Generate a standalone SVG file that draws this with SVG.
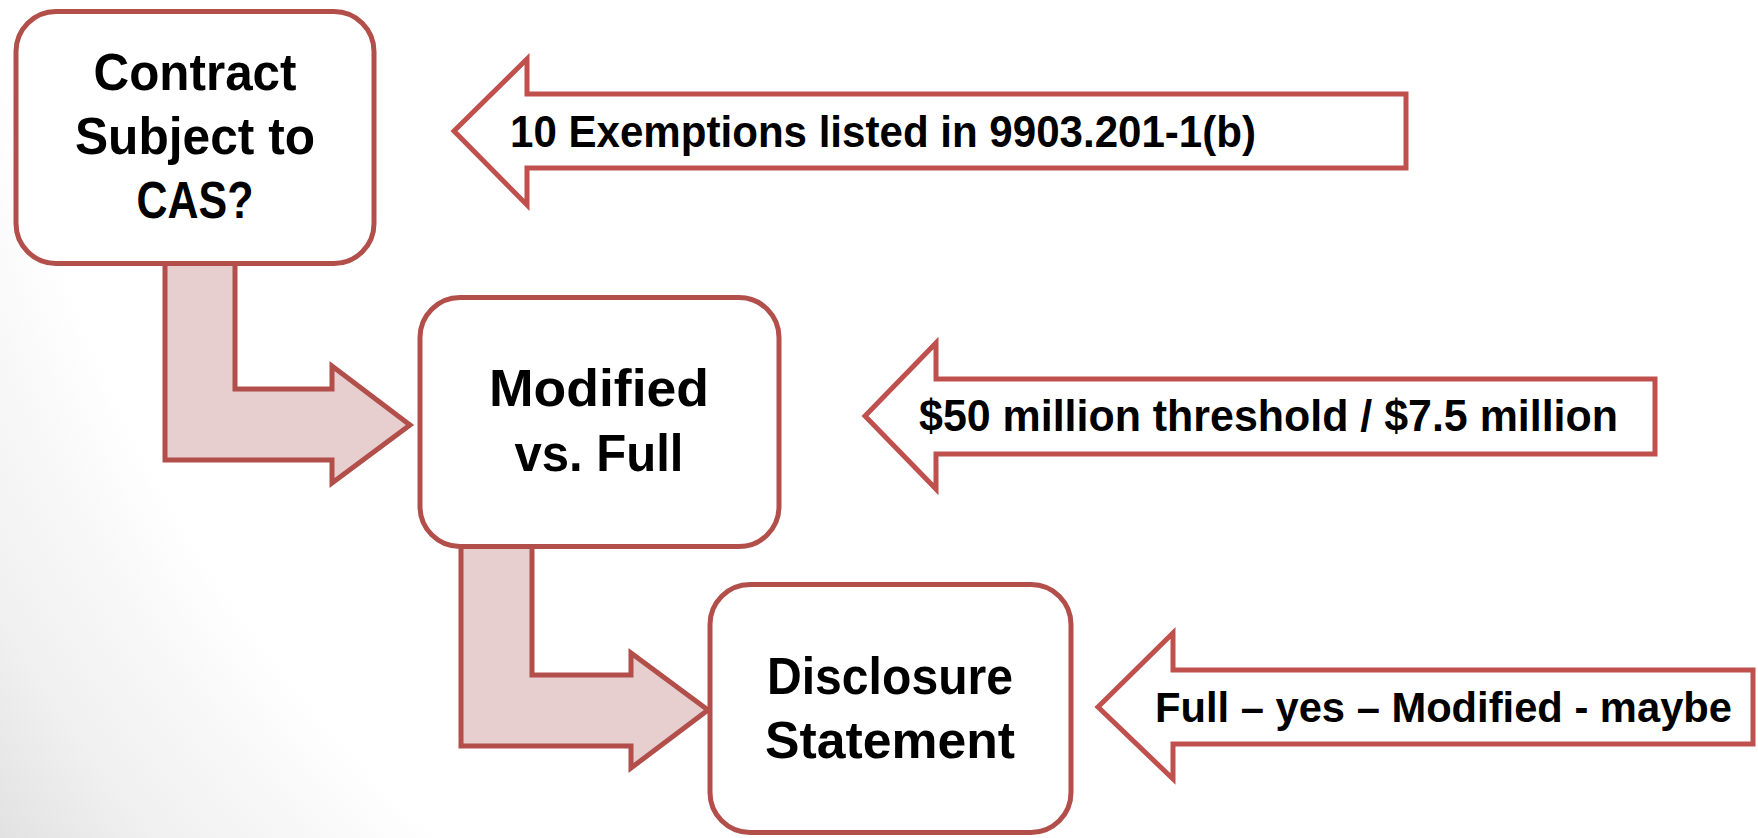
<svg xmlns="http://www.w3.org/2000/svg" width="1758" height="838" viewBox="0 0 1758 838">
  <defs>
    <radialGradient id="bg" gradientUnits="userSpaceOnUse" cx="1400" cy="-200" r="1743">
      <stop offset="0.81" stop-color="#ffffff"/>
      <stop offset="0.86" stop-color="#f8f8f8"/>
      <stop offset="0.93" stop-color="#f0f0f0"/>
      <stop offset="1" stop-color="#e2e2e2"/>
    </radialGradient>
  </defs>
  <style>
    .box { fill: #ffffff; stroke: #b24f4b; stroke-width: 5; }
    .flow { fill: #e7cfcf; stroke: #b24f4b; stroke-width: 5; stroke-linejoin: miter; }
    .callout { fill: #ffffff; stroke: #c0504d; stroke-width: 5; stroke-linejoin: miter; }
    .nodetext { font-family: "Liberation Sans", Arial, sans-serif; font-weight: bold; font-size: 52px; fill: #000000; text-anchor: middle; }
    .calltext { font-family: "Liberation Sans", Arial, sans-serif; font-weight: bold; font-size: 44px; fill: #000000; }
  </style>
  <rect x="0" y="0" width="1758" height="838" fill="url(#bg)"/>

  <g id="connectors">
    <path class="flow" d="M165,262 L235,262 L235,389 L332,389 L332,366 L410,425 L332,483 L332,460 L165,460 Z"/>
    <path class="flow" d="M461,545 L532,545 L532,675 L631,675 L631,653 L708,710 L631,768 L631,746 L461,746 Z"/>
  </g>

  <g id="node-contract">
    <rect class="box" x="16" y="11.5" width="358" height="252" rx="40" ry="40"/>
    <text class="nodetext" x="195" y="90" textLength="203" lengthAdjust="spacingAndGlyphs">Contract</text>
    <text class="nodetext" x="195" y="154" textLength="240" lengthAdjust="spacingAndGlyphs">Subject to</text>
    <text class="nodetext" x="195" y="218" textLength="117" lengthAdjust="spacingAndGlyphs">CAS?</text>
  </g>

  <g id="node-modified">
    <rect class="box" x="420" y="297.5" width="359" height="249" rx="40" ry="40"/>
    <text class="nodetext" x="599" y="406" textLength="220" lengthAdjust="spacingAndGlyphs">Modified</text>
    <text class="nodetext" x="599" y="471" textLength="169" lengthAdjust="spacingAndGlyphs">vs. Full</text>
  </g>

  <g id="node-disclosure">
    <rect class="box" x="710" y="584.5" width="361" height="248" rx="40" ry="40"/>
    <text class="nodetext" x="890" y="694" textLength="246" lengthAdjust="spacingAndGlyphs">Disclosure</text>
    <text class="nodetext" x="890" y="758" textLength="250" lengthAdjust="spacingAndGlyphs">Statement</text>
  </g>

  <g id="callout-exemptions">
    <path class="callout" d="M454,131 L527,59 L527,94 L1406,94 L1406,168 L527,168 L527,205 Z"/>
    <text class="calltext" x="510" y="147" textLength="746" lengthAdjust="spacingAndGlyphs">10 Exemptions listed in 9903.201-1(b)</text>
  </g>

  <g id="callout-threshold">
    <path class="callout" d="M865,416 L936,343 L936,379 L1655,379 L1655,454 L936,454 L936,489 Z"/>
    <text class="calltext" x="919" y="431" textLength="699" lengthAdjust="spacingAndGlyphs">$50 million threshold / $7.5 million</text>
  </g>

  <g id="callout-disclosure">
    <path class="callout" d="M1098,707 L1173,633 L1173,670 L1753,670 L1753,744 L1173,744 L1173,779 Z"/>
    <text class="calltext" x="1155" y="722" font-size="42" style="font-size:42px" textLength="577" lengthAdjust="spacingAndGlyphs">Full – yes – Modified - maybe</text>
  </g>
</svg>
